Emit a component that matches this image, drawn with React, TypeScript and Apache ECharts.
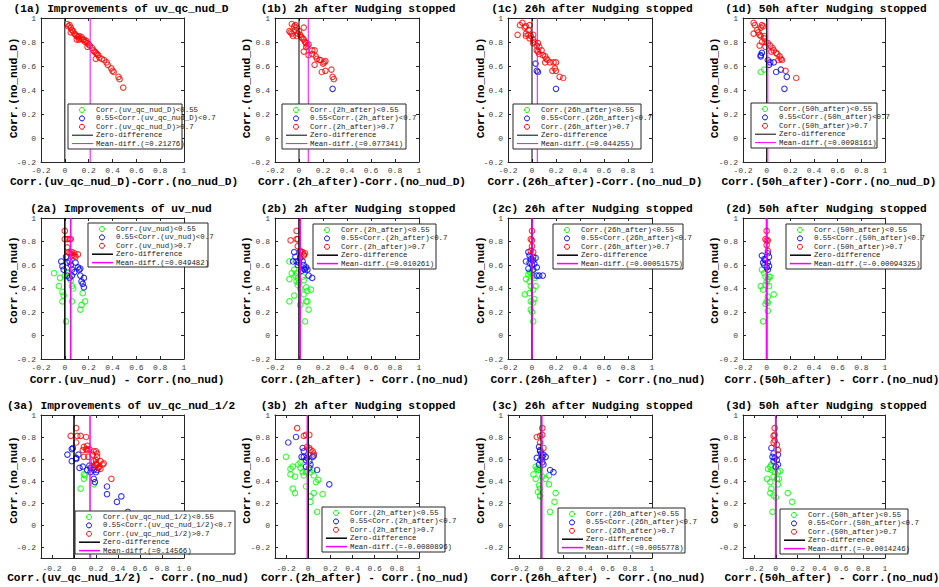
import React, { useEffect, useRef } from 'react';
import * as echarts from 'echarts';

type P = [number, number];

// ---------- data ----------
const p1aGreen: P[] = [];
const p1aBlue: P[] = [];
const p1aRed: P[] = [[0.02,0.95],[0.03,0.93],[0.04,0.94],[0.05,0.92],[0.06,0.90],[0.05,0.88],[0.07,0.89],[0.08,0.87],[0.09,0.86],[0.10,0.85],[0.10,0.82],[0.11,0.84],[0.12,0.85],[0.12,0.82],[0.13,0.83],[0.14,0.84],[0.15,0.82],[0.16,0.82],[0.17,0.80],[0.18,0.81],[0.19,0.79],[0.20,0.78],[0.21,0.77],[0.19,0.76],[0.23,0.75],[0.24,0.73],[0.25,0.72],[0.26,0.71],[0.27,0.70],[0.28,0.69],[0.26,0.66],[0.29,0.67],[0.31,0.66],[0.33,0.65],[0.35,0.63],[0.36,0.61],[0.39,0.58],[0.40,0.56],[0.41,0.55],[0.45,0.51],[0.46,0.49],[0.49,0.42]];

const p1bGreen: P[] = [];
const p1bBlue: P[] = [[0.28,0.41]];
const p1bRed: P[] = [[-0.06,0.95],[-0.08,0.89],[-0.07,0.88],[-0.06,0.87],[-0.04,0.93],[-0.03,0.94],[-0.03,0.90],[-0.02,0.92],[-0.01,0.87],[-0.05,0.85],[-0.02,0.85],[0.00,0.89],[0.01,0.86],[0.02,0.84],[0.03,0.83],[0.04,0.82],[0.05,0.80],[0.04,0.92],[0.06,0.79],[0.07,0.77],[0.06,0.76],[0.04,0.72],[0.08,0.78],[0.08,0.69],[0.11,0.73],[0.13,0.73],[0.11,0.70],[0.14,0.68],[0.15,0.66],[0.13,0.61],[0.17,0.65],[0.18,0.65],[0.20,0.62],[0.21,0.63],[0.22,0.64],[0.19,0.55],[0.22,0.56],[0.27,0.57],[0.28,0.51],[0.29,0.49]];

const p1cGreen: P[] = [];
const p1cBlue: P[] = [[0.03,0.62],[0.04,0.56],[0.05,0.55],[0.20,0.41]];
const p1cRed: P[] = [[-0.12,0.86],[-0.10,0.94],[-0.08,0.96],[-0.06,0.92],[-0.05,0.93],[-0.03,0.90],[-0.02,0.94],[-0.05,0.87],[-0.05,0.85],[-0.03,0.86],[-0.02,0.83],[-0.01,0.85],[0.01,0.86],[0.01,0.82],[0.01,0.79],[0.02,0.80],[0.04,0.77],[0.05,0.79],[0.06,0.76],[0.04,0.73],[0.05,0.72],[0.06,0.70],[0.08,0.73],[0.09,0.69],[0.11,0.68],[0.12,0.66],[0.13,0.65],[0.11,0.63],[0.15,0.63],[0.18,0.63],[0.20,0.63],[0.17,0.56],[0.19,0.58],[0.20,0.56],[0.23,0.51],[0.26,0.50]];

const p1dGreen: P[] = [[-0.05,0.55],[-0.02,0.57]];
const p1dBlue: P[] = [[-0.04,0.71],[-0.05,0.69],[-0.05,0.68],[0.01,0.65],[0.03,0.63],[0.06,0.63],[0.02,0.61],[0.08,0.55],[0.12,0.57],[0.17,0.51],[0.15,0.41]];
const p1dRed: P[] = [[-0.11,0.96],[-0.10,0.94],[-0.11,0.87],[-0.08,0.90],[-0.07,0.88],[-0.06,0.86],[-0.05,0.92],[-0.04,0.94],[-0.03,0.93],[-0.05,0.85],[-0.06,0.77],[-0.04,0.80],[-0.02,0.83],[-0.02,0.85],[-0.01,0.80],[0.01,0.79],[-0.01,0.76],[0.03,0.77],[0.05,0.75],[0.04,0.72],[0.06,0.73],[0.08,0.71],[0.09,0.70],[0.10,0.65],[0.11,0.68],[0.12,0.66],[0.13,0.65],[0.16,0.56],[0.25,0.50]];

const p2aGreen: P[] = [[-0.09,0.53],[-0.04,0.49],[-0.05,0.42],[-0.02,0.37],[-0.01,0.34],[-0.02,0.29],[0.01,0.12],[0.02,0.54],[0.04,0.50],[0.05,0.47],[0.06,0.42],[0.07,0.40],[0.06,0.29],[0.13,0.22],[0.14,0.26],[0.15,0.36],[0.17,0.29],[0.02,0.53],[0.00,0.51]];
const p2aBlue: P[] = [[-0.03,0.63],[-0.02,0.59],[-0.01,0.56],[0.01,0.67],[0.02,0.62],[0.04,0.63],[0.05,0.60],[0.06,0.56],[0.06,0.51],[0.08,0.54],[0.09,0.62],[0.11,0.58],[0.12,0.56],[0.13,0.51],[0.13,0.57],[0.14,0.46],[0.16,0.49],[0.16,0.41],[0.15,0.44],[0.02,0.51],[0.04,0.49]];
const p2aRed: P[] = [[0.00,0.89],[0.00,0.82],[0.02,0.82],[0.04,0.82],[0.05,0.82],[0.02,0.75],[0.03,0.71],[0.04,0.70],[0.05,0.70],[0.06,0.71],[0.08,0.70],[0.08,0.68],[0.09,0.67],[0.06,0.68],[0.11,0.69]];

const p2bGreen: P[] = [[-0.08,0.63],[-0.08,0.48],[-0.06,0.53],[-0.04,0.56],[-0.03,0.51],[-0.01,0.49],[-0.02,0.46],[-0.01,0.43],[0.01,0.40],[0.03,0.50],[0.04,0.47],[0.06,0.41],[0.07,0.38],[0.10,0.39],[0.04,0.35],[-0.04,0.34],[-0.08,0.29],[0.01,0.26],[0.06,0.29],[0.07,0.29],[0.08,0.22],[0.05,0.12],[-0.02,0.53],[0.00,0.45]];
const p2bBlue: P[] = [[-0.04,0.71],[-0.03,0.67],[-0.02,0.63],[-0.01,0.60],[0.01,0.66],[0.03,0.63],[0.04,0.60],[0.04,0.57],[0.06,0.58],[0.05,0.56],[0.07,0.56],[0.08,0.51],[0.11,0.49],[-0.05,0.63],[0.02,0.55],[0.00,0.62]];
const p2bRed: P[] = [[-0.02,0.89],[-0.01,0.82],[-0.07,0.81],[-0.01,0.76],[0.01,0.72],[0.03,0.71],[0.04,0.69],[0.05,0.70],[0.01,0.71],[-0.02,0.82],[0.04,0.68]];

const p2cGreen: P[] = [[-0.02,0.54],[-0.01,0.53],[0.01,0.51],[0.02,0.49],[-0.05,0.48],[-0.02,0.46],[-0.01,0.42],[0.03,0.42],[0.01,0.39],[-0.06,0.35],[-0.02,0.36],[-0.01,0.29],[0.01,0.28],[-0.01,0.22],[0.00,0.20],[0.01,0.12],[0.00,0.55],[-0.03,0.52],[0.02,0.31]];
const p2cBlue: P[] = [[-0.03,0.71],[-0.02,0.68],[-0.01,0.65],[0.01,0.64],[0.01,0.67],[0.02,0.61],[0.04,0.58],[-0.02,0.62],[-0.05,0.63],[-0.03,0.57],[0.01,0.56],[0.04,0.51],[0.06,0.51],[0.09,0.51],[0.00,0.60],[0.03,0.66]];
const p2cRed: P[] = [[0.00,0.89],[-0.01,0.82],[0.00,0.81],[0.00,0.76],[-0.01,0.72],[0.01,0.71]];

const p2dGreen: P[] = [[-0.04,0.56],[-0.02,0.53],[-0.01,0.50],[0.01,0.48],[0.02,0.50],[0.03,0.50],[-0.05,0.42],[-0.03,0.39],[-0.01,0.43],[0.02,0.42],[0.06,0.35],[0.01,0.33],[0.00,0.29],[-0.01,0.27],[0.01,0.21],[-0.03,0.12],[0.00,0.46],[0.01,0.28]];
const p2dBlue: P[] = [[-0.04,0.68],[-0.02,0.65],[-0.01,0.64],[0.01,0.62],[0.02,0.59],[-0.02,0.60],[0.00,0.58],[0.01,0.56],[-0.03,0.62],[0.02,0.67],[0.01,0.70]];
const p2dRed: P[] = [[0.00,0.89],[-0.01,0.82],[0.01,0.81],[0.00,0.77],[0.01,0.72],[0.00,0.81]];

const p3aGreen: P[] = [[0.09,0.46],[0.09,0.42],[0.10,0.45],[0.06,0.33],[0.18,0.37]];
const p3aBlue: P[] = [[-0.06,0.64],[-0.02,0.69],[-0.01,0.70],[-0.02,0.58],[0.02,0.61],[0.04,0.64],[0.05,0.52],[0.08,0.53],[0.12,0.50],[0.14,0.54],[0.15,0.52],[0.15,0.48],[0.18,0.50],[0.20,0.48],[0.18,0.42],[0.19,0.39],[0.21,0.50],[0.30,0.35],[0.30,0.28],[0.39,0.21],[0.43,0.26],[0.49,0.12],[0.02,0.60]];
const p3aRed: P[] = [[-0.03,0.81],[0.02,0.88],[0.03,0.81],[0.06,0.81],[0.11,0.80],[0.02,0.75],[0.08,0.68],[0.09,0.71],[0.11,0.69],[0.12,0.72],[0.12,0.68],[0.14,0.69],[0.09,0.62],[0.13,0.62],[0.17,0.64],[0.18,0.67],[0.20,0.67],[0.21,0.65],[0.21,0.62],[0.18,0.58],[0.20,0.56],[0.21,0.55],[0.23,0.53],[0.24,0.58],[0.26,0.55],[0.24,0.51],[0.22,0.52],[0.27,0.56],[0.34,0.42],[0.20,0.59],[0.20,0.55],[0.18,0.53]];

const p3bGreen: P[] = [[-0.20,0.62],[-0.16,0.51],[-0.14,0.53],[-0.16,0.46],[-0.12,0.44],[-0.09,0.55],[-0.07,0.52],[-0.05,0.48],[-0.04,0.45],[-0.02,0.48],[-0.01,0.49],[0.02,0.48],[0.04,0.50],[0.05,0.45],[0.07,0.39],[0.09,0.41],[-0.02,0.35],[-0.14,0.33],[-0.12,0.29],[0.02,0.26],[0.05,0.29],[0.02,0.21],[0.13,0.28],[0.08,0.12],[-0.07,0.57]];
const p3bBlue: P[] = [[-0.18,0.75],[-0.11,0.80],[-0.05,0.70],[-0.04,0.67],[-0.06,0.62],[-0.04,0.62],[-0.02,0.59],[-0.01,0.61],[0.01,0.58],[0.02,0.55],[0.04,0.62],[0.05,0.63],[-0.02,0.53],[0.01,0.52],[0.08,0.50],[0.19,0.37]];
const p3bRed: P[] = [[-0.10,0.88],[-0.04,0.81],[-0.02,0.82],[0.01,0.82],[-0.01,0.71],[0.01,0.70],[0.02,0.68],[0.04,0.67],[0.05,0.65]];

const p3cGreen: P[] = [[-0.05,0.53],[-0.04,0.51],[-0.02,0.50],[-0.01,0.52],[-0.07,0.46],[-0.05,0.42],[0.01,0.44],[0.04,0.42],[0.07,0.45],[-0.02,0.36],[-0.01,0.33],[-0.03,0.30],[-0.01,0.27],[0.07,0.37],[0.13,0.29],[0.12,0.21],[0.08,0.12],[-0.01,0.26],[-0.03,0.50]];
const p3cBlue: P[] = [[-0.02,0.71],[-0.01,0.68],[0.00,0.65],[0.01,0.62],[0.02,0.64],[0.04,0.62],[-0.04,0.61],[-0.01,0.59],[0.01,0.57],[0.02,0.55],[-0.02,0.55],[0.08,0.50],[0.11,0.48],[-0.01,0.67]];
const p3cRed: P[] = [[0.01,0.88],[-0.01,0.81],[-0.04,0.80],[0.01,0.82],[0.02,0.70],[-0.01,0.75]];

const p3dGreen: P[] = [[-0.05,0.53],[-0.07,0.51],[-0.04,0.50],[-0.01,0.48],[0.02,0.48],[0.04,0.49],[-0.08,0.42],[-0.05,0.39],[-0.02,0.44],[0.01,0.42],[0.03,0.42],[0.02,0.37],[-0.04,0.33],[-0.05,0.29],[-0.02,0.27],[0.00,0.25],[0.11,0.29],[0.15,0.21],[-0.03,0.12],[-0.04,0.55]];
const p3dBlue: P[] = [[-0.04,0.70],[-0.02,0.65],[-0.03,0.62],[-0.01,0.61],[0.01,0.59],[0.02,0.64],[0.02,0.55],[0.00,0.53],[-0.02,0.58]];
const p3dRed: P[] = [[-0.01,0.88],[-0.02,0.81],[-0.01,0.77],[0.01,0.73],[0.02,0.68],[-0.02,0.75],[-0.01,0.82]];

const greens = [p1aGreen, p1bGreen, p1cGreen, p1dGreen, p2aGreen, p2bGreen, p2cGreen, p2dGreen, p3aGreen, p3bGreen, p3cGreen, p3dGreen];
const blues = [p1aBlue, p1bBlue, p1cBlue, p1dBlue, p2aBlue, p2bBlue, p2cBlue, p2dBlue, p3aBlue, p3bBlue, p3cBlue, p3dBlue];
const reds = [p1aRed, p1bRed, p1cRed, p1dRed, p2aRed, p2bRed, p2cRed, p2dRed, p3aRed, p3bRed, p3cRed, p3dRed];

const meanDiffs = [0.21276, 0.077341, 0.044255, 0.0098161, 0.049482, 0.010261, 0.00051575, -0.00094325, 0.14566, -0.0080896, 0.0055778, -0.0014246];
const meanLabels = ['0.21276', '0.077341', '0.044255', '0.0098161', '0.049482', '0.010261', '0.00051575', '-0.00094325', '0.14566', '-0.0080896', '0.0055778', '-0.0014246'];

const titles = [
  '(1a) Improvements of uv_qc_nud_D', '(1b) 2h after Nudging stopped', '(1c) 26h after Nudging stopped', '(1d) 50h after Nudging stopped',
  '(2a) Improvements of uv_nud', '(2b) 2h after Nudging stopped', '(2c) 26h after Nudging stopped', '(2d) 50h after Nudging stopped',
  '(3a) Improvements of uv_qc_nud_1/2', '(3b) 2h after Nudging stopped', '(3c) 26h after Nudging stopped', '(3d) 50h after Nudging stopped',
];
const xLabels = [
  'Corr.(uv_qc_nud_D)-Corr.(no_nud_D)', 'Corr.(2h_after)-Corr.(no_nud_D)', 'Corr.(26h_after)-Corr.(no_nud_D)', 'Corr.(50h_after)-Corr.(no_nud_D)',
  'Corr.(uv_nud) - Corr.(no_nud)', 'Corr.(2h_after) - Corr.(no_nud)', 'Corr.(26h_after) - Corr.(no_nud)', 'Corr.(50h_after) - Corr.(no_nud)',
  'Corr.(uv_qc_nud_1/2) - Corr.(no_nud)', 'Corr.(2h_after) - Corr.(no_nud)', 'Corr.(26h_after) - Corr.(no_nud)', 'Corr.(50h_after) - Corr.(no_nud)',
];
const yLabels = ['Corr.(no_nud_D)', 'Corr.(no_nud)', 'Corr.(no_nud)'];
const legendVars = ['uv_qc_nud_D', '2h_after', '26h_after', '50h_after', 'uv_nud', '2h_after', '26h_after', '50h_after', 'uv_qc_nud_1/2', '2h_after', '26h_after', '50h_after'];
const tickValues = [-0.2, 0, 0.2, 0.4, 0.6, 0.8, 1];

// ---------- layout ----------
const colX = [[41, 143], [275, 144], [508, 144], [743, 142]];
const rowY = [[18, 144], [218, 141], [415, 143]];
const titleX = [121, 358, 592, 826];
const titleY = [9, 209, 406];
const xLabX = [124, 362, 595, 829, 127, 365, 598, 832, 128, 365, 598, 832];
const xLabY = [182, 380, 578];
const yLabX = [14, 247, 481, 715];
const yLabY = [88, 280, 480];
const legendBoxes = [
  [68, 104, 114, 45], [282, 104, 124, 45], [513, 104, 128, 45], [751, 103, 126, 45],
  [88, 223, 120, 44], [313, 224, 123, 45], [553, 224, 130, 45], [786, 224, 135, 45],
  [75, 511, 160, 43], [322, 507, 123, 45], [558, 508, 127, 45], [780, 509, 128, 45],
];

const AX = '#262626';
const FONT = "'Liberation Mono', 'DejaVu Sans Mono', monospace";
const GREEN = '#00ff00';
const BLUE = '#0000ff';
const RED = '#ff0000';
const MAGENTA = '#ff00ff';

function buildOption() {
  const grid: any[] = [];
  const xAxis: any[] = [];
  const yAxis: any[] = [];
  const series: any[] = [];
  const graphic: any[] = [];

  for (let i = 0; i < 12; i++) {
    const row = Math.floor(i / 4);
    const col = i % 4;
    const [left, width] = colX[col];
    const [top, height] = rowY[row];
    grid.push({ left, top, width, height, containLabel: false });
    const r3 = row === 2;
    const min = r3 ? -0.3 : -0.2;

    const mk = (pos: string, showLabel: boolean, isX: boolean) => {
      const a: any = {
        type: 'value', gridIndex: i, min, max: 1, position: pos,
        splitLine: { show: false },
        axisLine: { show: true, onZero: false, lineStyle: { color: AX, width: 1 } },
        axisTick: { show: true, inside: true, length: 3, lineStyle: { color: AX, width: 1 } },
        axisLabel: {
          show: showLabel, fontSize: 8, fontFamily: FONT, color: '#404040',
          margin: isX ? (r3 ? 6 : 4) : 5,
        },
      };
      if (r3) {
        a.axisTick.customValues = tickValues;
        a.axisLabel.customValues = tickValues;
      } else {
        a.interval = 0.2;
      }
      if (i === 8 && isX) {
        a.axisLabel.formatter = (v: number) => (v === 1 ? '1.0' : String(Math.round(v * 10) / 10));
      }
      return a;
    };
    xAxis.push(mk('bottom', true, true), mk('top', false, true));
    yAxis.push(mk('left', true, false), mk('right', false, false));

    const xi = 2 * i;
    const sc = (data: P[], color: string) => ({
      type: 'scatter', xAxisIndex: xi, yAxisIndex: xi, data, symbol: 'circle', symbolSize: 5.5,
      itemStyle: { color: 'transparent', borderColor: color, borderWidth: 1.1 }, silent: true, z: 2,
    });
    series.push(sc(greens[i], GREEN), sc(blues[i], BLUE), sc(reds[i], RED));
    const lw = row === 0 ? 1 : 1.5;
    series.push({
      type: 'line', xAxisIndex: xi, yAxisIndex: xi, data: [[0, min], [0, 1]], symbol: 'none', silent: true, z: 3,
      lineStyle: { color: '#000', width: lw },
    });
    series.push({
      type: 'line', xAxisIndex: xi, yAxisIndex: xi, data: [[meanDiffs[i], min], [meanDiffs[i], 1]], symbol: 'none', silent: true, z: 4,
      lineStyle: { color: MAGENTA, width: lw },
    });

    // title & axis names
    graphic.push({
      type: 'text', x: titleX[col], y: titleY[row], z: 100,
      style: { text: titles[i], fontFamily: FONT, fontWeight: 'bold', fontSize: 11.2, fill: '#000', textAlign: 'center', textVerticalAlign: 'middle', align: 'center', verticalAlign: 'middle' },
    });
    graphic.push({
      type: 'text', x: xLabX[i], y: xLabY[row], z: 100,
      style: { text: xLabels[i], fontFamily: FONT, fontWeight: 'bold', fontSize: 11.2, fill: '#000', textAlign: 'center', textVerticalAlign: 'middle', align: 'center', verticalAlign: 'middle' },
    });
    graphic.push({
      type: 'text', x: yLabX[col], y: yLabY[row], rotation: Math.PI / 2, z: 100,
      style: { text: yLabels[row], fontFamily: FONT, fontWeight: 'bold', fontSize: 11.2, fill: '#000', textAlign: 'center', textVerticalAlign: 'middle', align: 'center', verticalAlign: 'middle' },
    });

    // legend
    const [bx, by, bw, bh] = legendBoxes[i];
    graphic.push({ type: 'rect', z: 100, shape: { x: bx, y: by, width: bw, height: bh }, style: { fill: '#fff', stroke: AX, lineWidth: 1 } });
    const v = legendVars[i];
    const items = [
      { t: `Corr.(${v})<0.55`, kind: 'c', color: GREEN },
      { t: `0.55<Corr.(${v})<0.7`, kind: 'c', color: BLUE },
      { t: `Corr.(${v})>0.7`, kind: 'c', color: RED },
      { t: 'Zero-difference', kind: 'l', color: '#000' },
      { t: `Mean-diff.(=${meanLabels[i]})`, kind: 'l', color: MAGENTA },
    ];
    items.forEach((it, k) => {
      const yy = by + 6 + k * 8.4;
      if (it.kind === 'c') {
        graphic.push({ type: 'circle', z: 101, shape: { cx: bx + 14, cy: yy, r: 2.5 }, style: { fill: 'none', stroke: it.color, lineWidth: 1 } });
      } else {
        graphic.push({ type: 'line', z: 101, shape: { x1: bx + 4, y1: yy, x2: bx + 25, y2: yy }, style: { stroke: it.color, lineWidth: lw } });
      }
      graphic.push({
        type: 'text', z: 101, x: bx + 28, y: yy,
        style: { text: it.t, fontFamily: FONT, fontSize: 7.4, fill: '#222', textAlign: 'left', textVerticalAlign: 'middle', align: 'left', verticalAlign: 'middle' },
      });
    });
  }

  return { animation: false, backgroundColor: '#fff', grid, xAxis, yAxis, series, graphic };
}

export default function App() {
  const ref = useRef<HTMLDivElement>(null);
  useEffect(() => {
    if (!ref.current) return;
    const chart = echarts.init(ref.current, null, { renderer: 'svg' });
    chart.setOption(buildOption() as any);
    return () => chart.dispose();
  }, []);
  return <div ref={ref} style={{ position: 'fixed', left: 0, top: 0, width: 939, height: 587, background: '#fff' }} />;
}
